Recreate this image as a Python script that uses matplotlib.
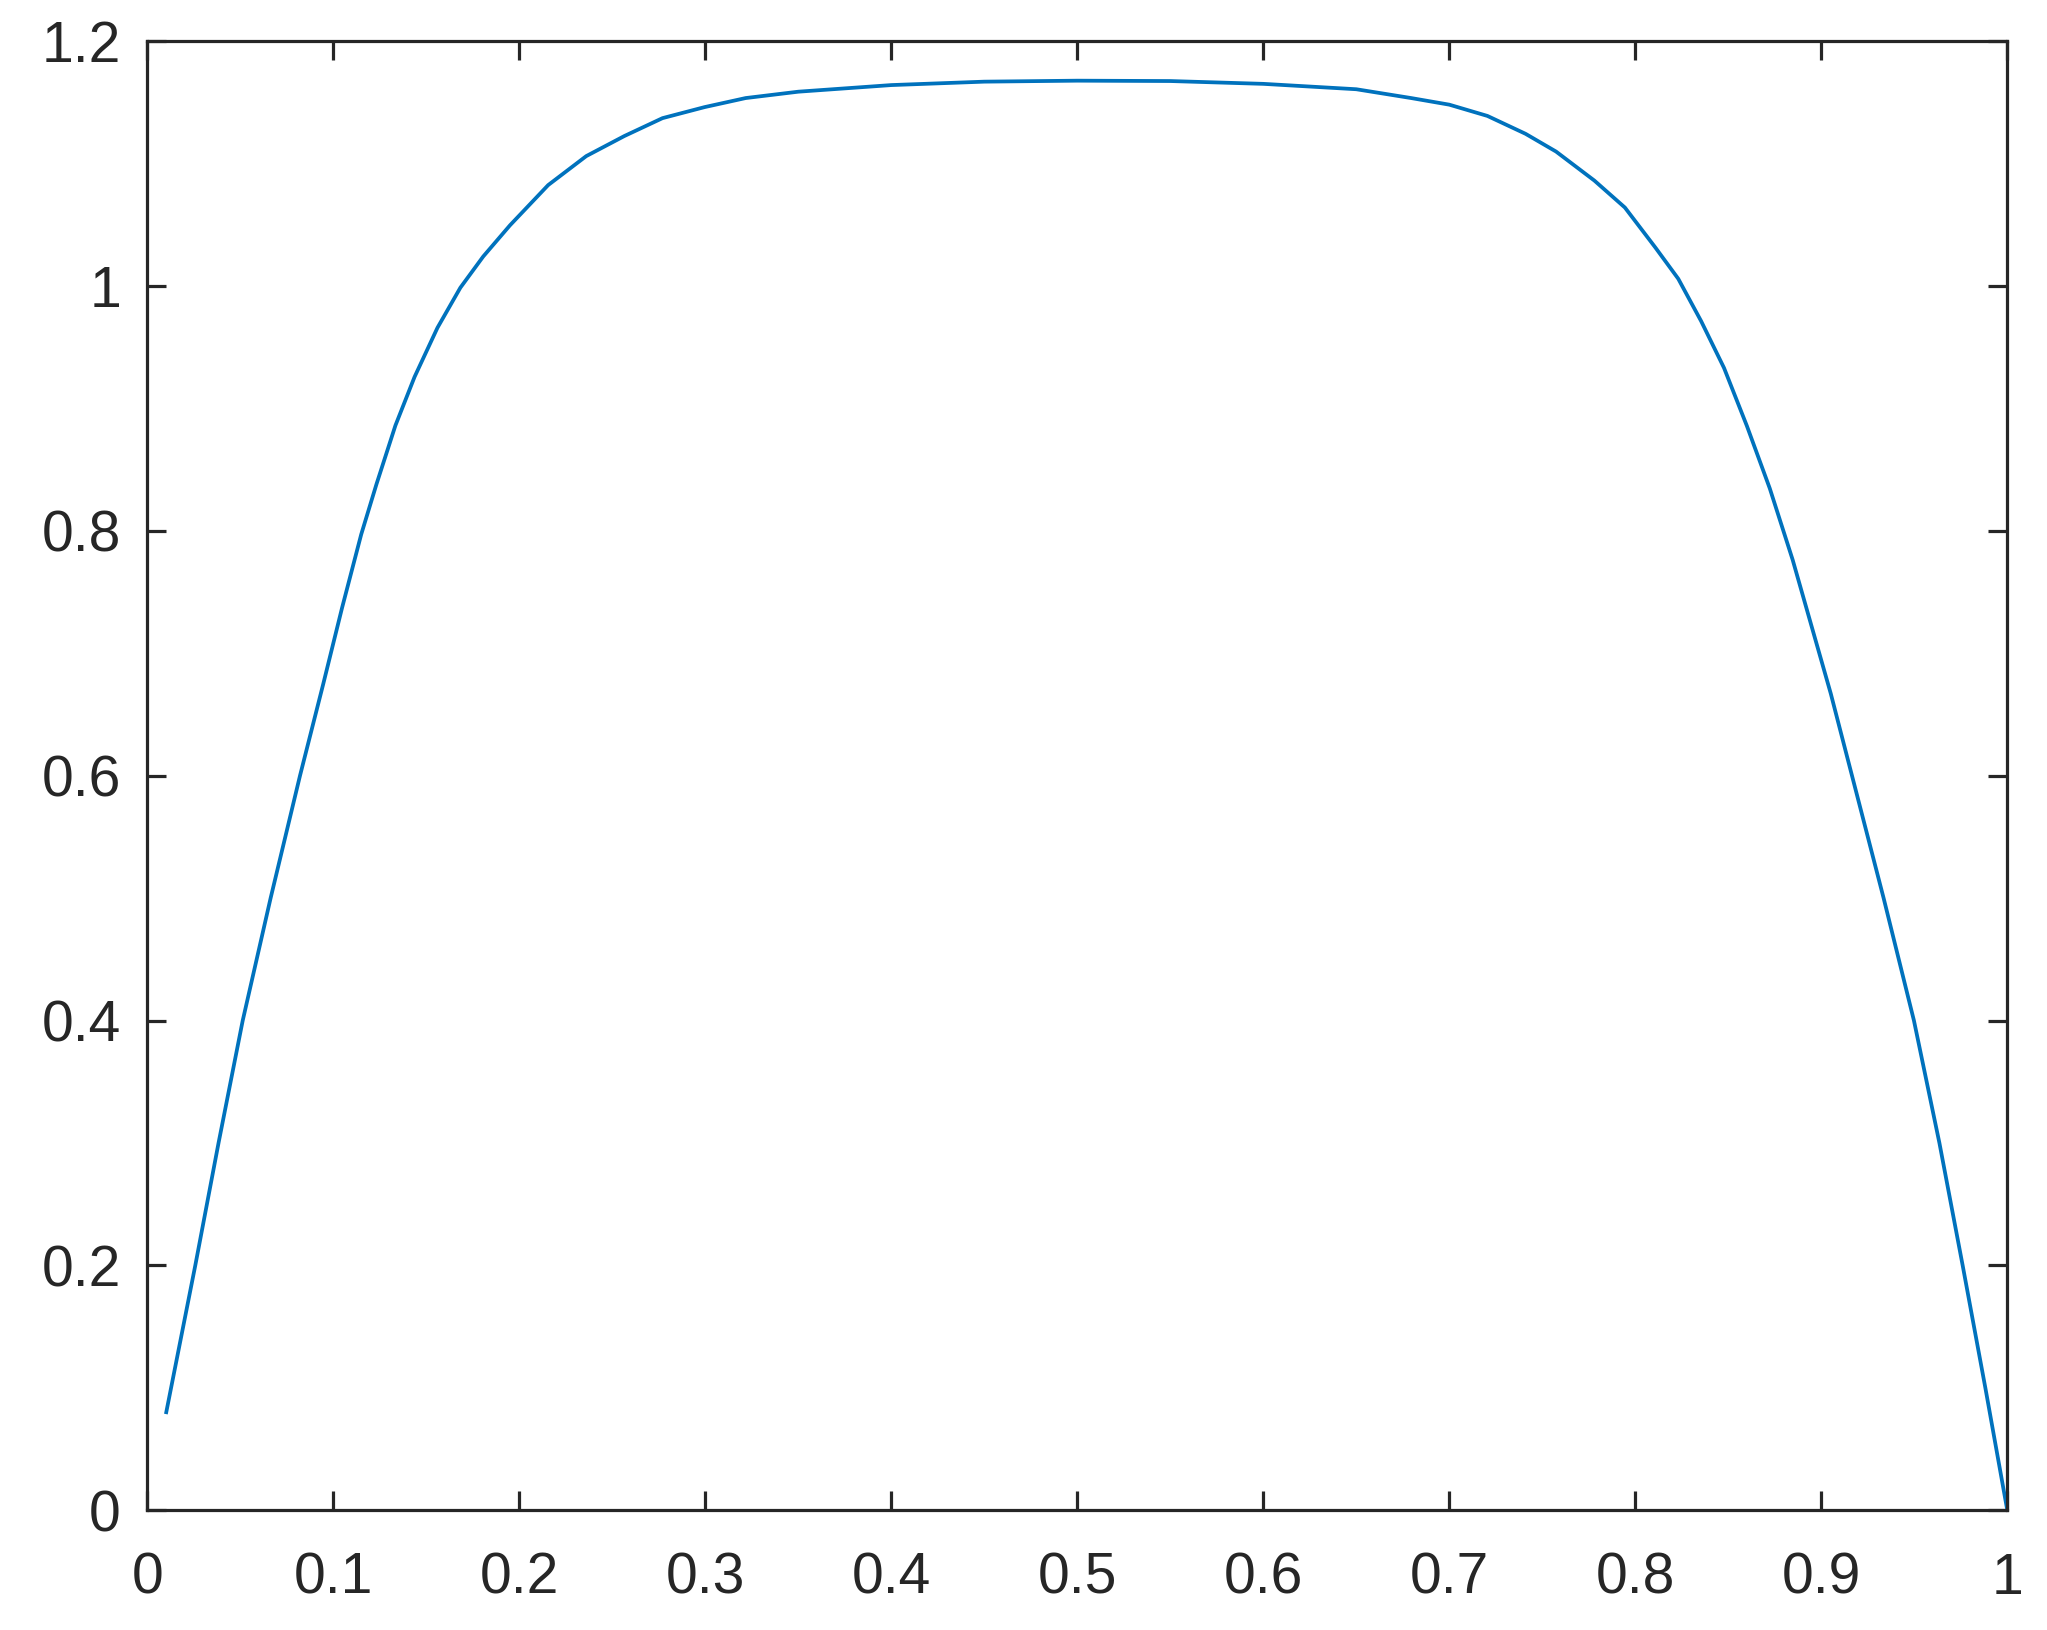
import matplotlib
matplotlib.use("Agg")
import matplotlib.pyplot as plt

# Values
x_vals = [0.010, 0.0258, 0.0383, 0.0513, 0.0663, 0.0821, 0.0945, 0.1047, 0.115,
          0.1232, 0.1334, 0.1437, 0.156, 0.1683, 0.1806, 0.195, 0.2155, 0.236,
          0.2565, 0.277, 0.2996, 0.3217, 0.35, 0.40, 0.45, 0.50, 0.55, 0.60,
          0.65, 0.6795, 0.70, 0.7205, 0.741, 0.7574, 0.778, 0.7944, 0.8108,
          0.8231, 0.8354, 0.8477, 0.86, 0.8723, 0.8846, 0.8969, 0.9051, 0.9165,
          0.9335, 0.9498, 0.9635, 0.976, 0.9882, 1.0]
y_vals = [0.0786, 0.200, 0.300, 0.400, 0.500, 0.600, 0.6743, 0.737, 0.797,
          0.838, 0.886, 0.9257, 0.9658, 0.9985, 1.024, 1.0495, 1.0823, 1.106,
          1.1224, 1.137, 1.146, 1.1534, 1.1586, 1.164, 1.1668, 1.1676, 1.1673, 1.165,
          1.1606, 1.1534, 1.148, 1.1388, 1.1242, 1.1097, 1.086, 1.064, 1.0313,
          1.0058, 0.9712, 0.933, 0.8856, 0.8346, 0.7763, 0.7107, 0.667, 0.600,
          0.500, 0.400, 0.300, 0.200, 0.100, 0.0]

x_ticks = [0, 0.1, 0.2, 0.3, 0.4, 0.5, 0.6, 0.7, 0.8, 0.9, 1]
x_labels = ["0", "0.1", "0.2", "0.3", "0.4", "0.5", "0.6", "0.7", "0.8", "0.9", "1"]
y_ticks = [0, 0.2, 0.4, 0.6, 0.8, 1, 1.2]
y_labels = ["0", "0.2", "0.4", "0.6", "0.8", "1", "1.2"]

W, H = 2047, 1630
fig = plt.figure(figsize=(W / 100, H / 100), dpi=100)
left, right, top, bottom = 147.3, 2007.3, 41.0, 1510.3
ax = fig.add_axes([left / W, 1 - bottom / H, (right - left) / W, (bottom - top) / H])

ax.plot(x_vals, y_vals, color="#0072BD", linewidth=2.7,
        solid_joinstyle="round", solid_capstyle="butt")

ax.set_xlim(0, 1)
ax.set_ylim(0, 1.2)
ax.set_xticks(x_ticks)
ax.set_xticklabels(x_labels)
ax.set_yticks(y_ticks)
ax.set_yticklabels(y_labels)

dark = "#262626"
for s in ax.spines.values():
    s.set_linewidth(2.3)
    s.set_color(dark)
ax.tick_params(direction="in", length=13.5, width=2.3, color=dark,
               top=True, right=True, labelsize=41, labelcolor=dark)
ax.tick_params(axis="x", pad=30)
ax.tick_params(axis="y", pad=19)
for lab in ax.get_xticklabels() + ax.get_yticklabels():
    lab.set_fontfamily("Liberation Sans")

fig.savefig("out.png", dpi=100, facecolor="white")
